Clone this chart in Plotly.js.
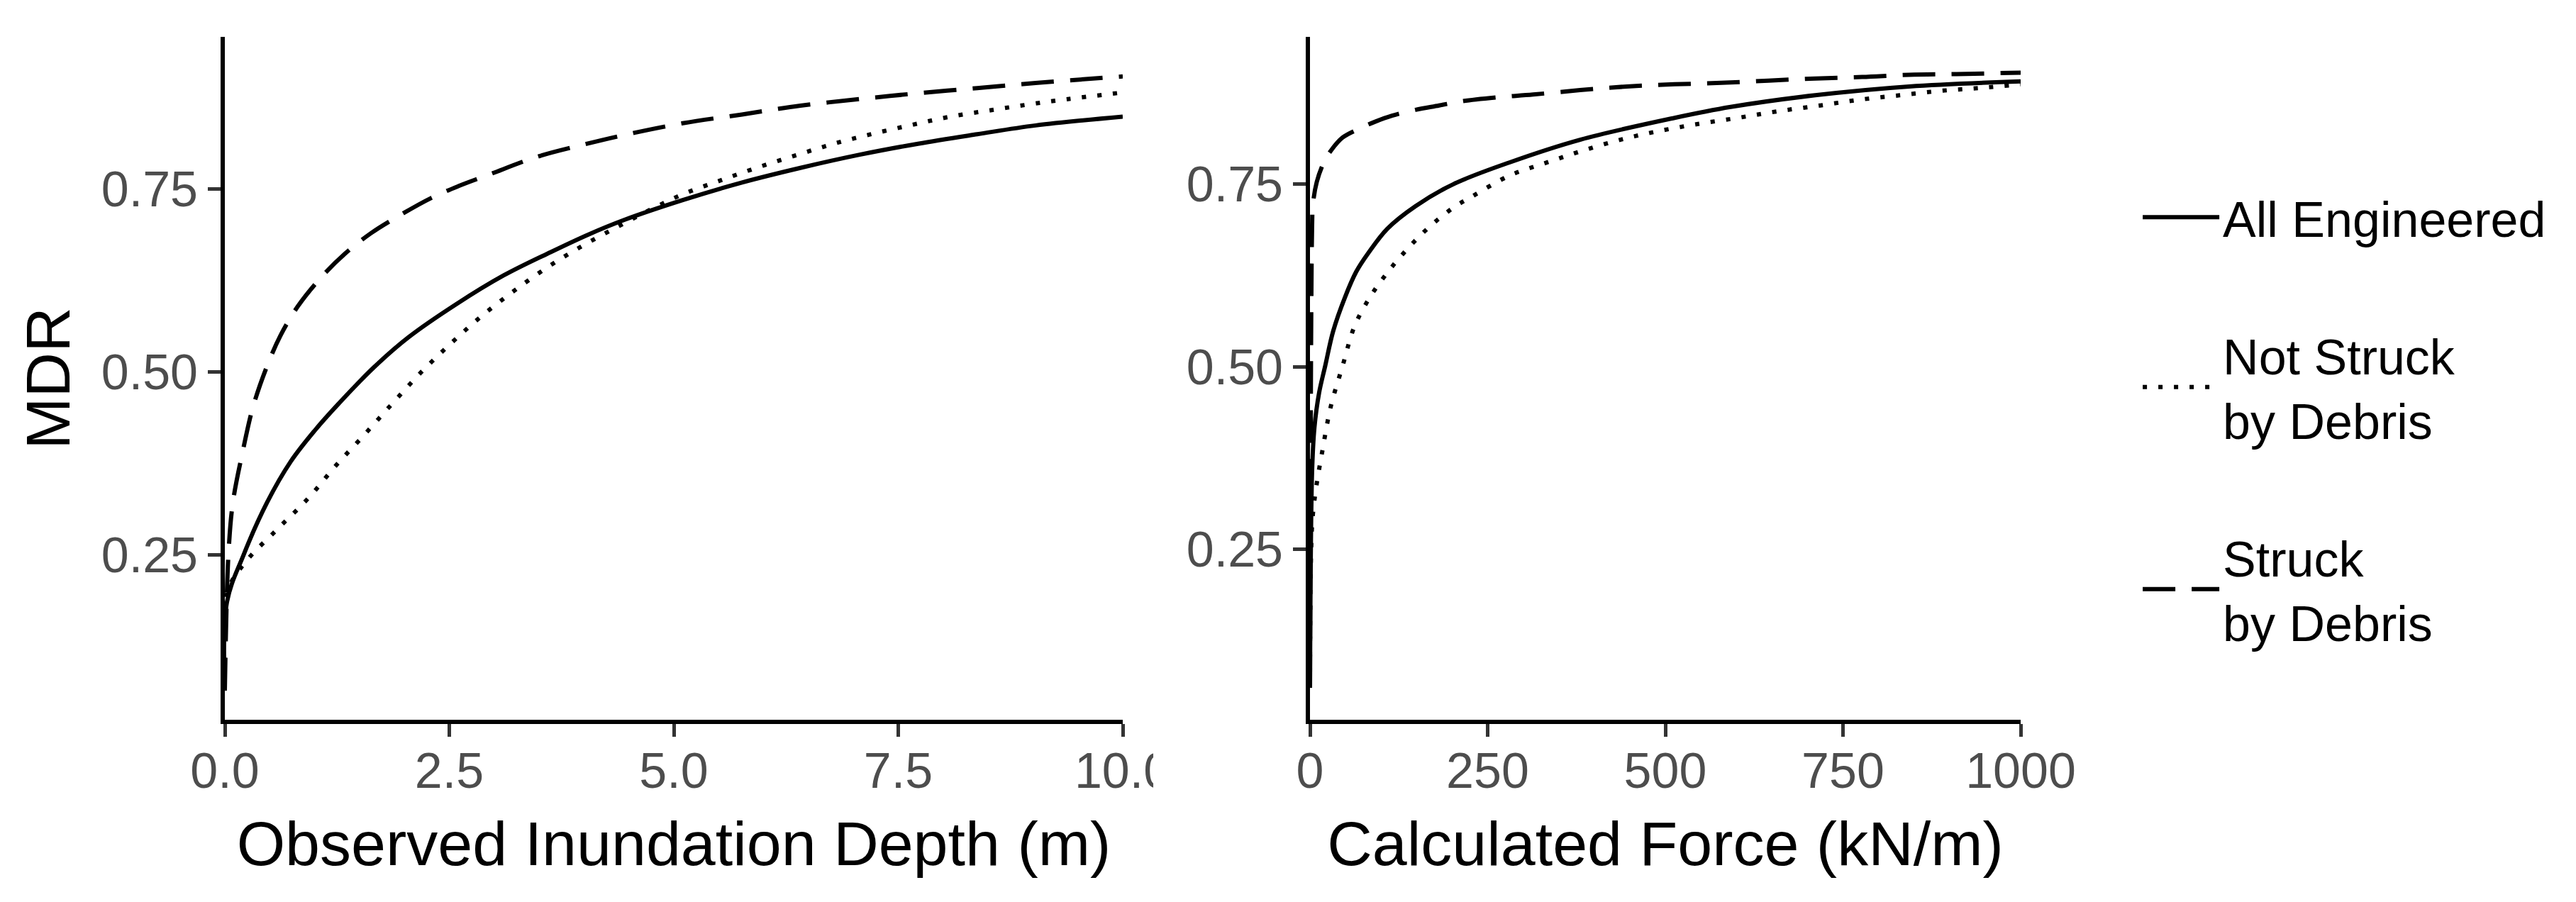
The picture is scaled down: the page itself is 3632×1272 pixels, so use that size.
<!DOCTYPE html>
<html>
<head>
<meta charset="utf-8">
<script src="https://cdn.plot.ly/plotly-3.0.1.min.js"></script>
<style>
  html, body { margin: 0; padding: 0; background: #ffffff; }
  #chart { width: 3632px; height: 1272px; }
</style>
</head>
<body>
<div id="chart"></div>
<script>
// ---------- data ----------
const seriesNames = ["All Engineered", "Not Struck<br>by Debris", "Struck<br>by Debris"];

// Left panel: Observed Inundation Depth (m)
const depthAll_x = [0, 0.024, 0.208, 0.471, 0.735, 1.0, 1.261, 1.656, 2.05, 2.58, 3.104, 3.63, 4.05, 4.45, 5.10, 5.76, 6.41, 7.07, 7.72, 8.38, 9.03, 10.0];
const depthAll_y = [0.065, 0.186, 0.250, 0.322, 0.378, 0.420, 0.456, 0.506, 0.548, 0.593, 0.632, 0.664, 0.688, 0.708, 0.735, 0.759, 0.779, 0.797, 0.812, 0.825, 0.837, 0.849];

const depthNot_x = [0, 0.03, 0.234, 0.59, 0.932, 1.235, 1.551, 1.88, 2.196, 2.525, 2.854, 3.21, 3.578, 3.947, 4.35, 4.74, 5.10, 5.50, 5.92, 6.38, 6.81, 7.23, 7.66, 8.08, 8.54, 8.97, 9.39, 10.0];
const depthNot_y = [0.065, 0.200, 0.241, 0.286, 0.328, 0.372, 0.414, 0.459, 0.501, 0.540, 0.576, 0.610, 0.642, 0.670, 0.697, 0.722, 0.743, 0.761, 0.779, 0.797, 0.813, 0.826, 0.838, 0.849, 0.858, 0.866, 0.873, 0.882];

const depthStruck_x = [0, 0.04, 0.09, 0.2, 0.313, 0.46, 0.62, 0.814, 1.077, 1.34, 1.63, 1.946, 2.3, 2.6, 2.946, 3.473, 4.0, 4.45, 5.10, 5.76, 6.41, 7.07, 7.72, 8.38, 9.03, 10.0];
const depthStruck_y = [0.065, 0.250, 0.322, 0.392, 0.452, 0.505, 0.550, 0.590, 0.630, 0.662, 0.690, 0.714, 0.738, 0.754, 0.770, 0.794, 0.811, 0.824, 0.840, 0.852, 0.864, 0.873, 0.881, 0.888, 0.895, 0.904];

// Right panel: Calculated Force (kN/m)
const forceAll_x = [0, 2.9, 6.2, 12.8, 21.4, 32.7, 49.2, 65, 82.3, 108.8, 148.5, 201.5, 281, 380, 513, 592, 711, 843, 1000];
const forceAll_y = [0.06, 0.355, 0.416, 0.464, 0.501, 0.549, 0.595, 0.630, 0.656, 0.689, 0.720, 0.750, 0.780, 0.811, 0.841, 0.856, 0.872, 0.884, 0.891];

const forceNot_x = [0, 2.9, 8.2, 17.5, 29.4, 45.9, 62.5, 82.3, 99, 118.8, 138.6, 158.5, 181.6, 204.8, 229.3, 281, 334, 383.5, 436.5, 486, 542, 602, 658, 718, 774, 830, 887, 943, 1000];
const forceNot_y = [0.06, 0.282, 0.331, 0.385, 0.446, 0.501, 0.555, 0.592, 0.616, 0.641, 0.663, 0.683, 0.703, 0.720, 0.734, 0.762, 0.780, 0.796, 0.811, 0.822, 0.832, 0.841, 0.850, 0.858, 0.866, 0.872, 0.878, 0.882, 0.887];

const forceStruck_x = [0, 2.9, 4.2, 9.5, 19.5, 29.4, 45.9, 69.1, 92.3, 115.4, 148.5, 181.6, 214.7, 261, 314, 380, 446, 513, 579, 645, 711, 777, 843, 910, 1000];
const forceStruck_y = [0.06, 0.689, 0.723, 0.753, 0.780, 0.796, 0.814, 0.826, 0.836, 0.844, 0.852, 0.858, 0.864, 0.869, 0.873, 0.879, 0.884, 0.887, 0.889, 0.892, 0.895, 0.897, 0.900, 0.901, 0.903];

// Tick labels
const yTickVals = [0.25, 0.50, 0.75];
const yTickText = ["0.25", "0.50", "0.75"];
const depthTickVals = [0, 2.5, 5, 7.5, 10];
const depthTickText = ["0.0", "2.5", "5.0", "7.5", "10.0"];
const forceTickVals = [0, 250, 500, 750, 1000];
const forceTickText = ["0", "250", "500", "750", "1000"];

// ---------- styling ----------
const FONT = "Liberation Sans, Arial, sans-serif";
const LW = 6;
const dashes = ["solid", "6px,16px", "46px,23px"];

function trace(x, y, i, xa, ya, show) {
  return {
    x: x, y: y, xaxis: xa, yaxis: ya,
    type: "scatter", mode: "lines",
    name: seriesNames[i], legendgroup: "g" + i, showlegend: show,
    line: { color: "#000000", width: LW, dash: dashes[i], shape: "spline", smoothing: 1.0 },
    hoverinfo: "skip"
  };
}

const data = [
  trace(depthAll_x, depthAll_y, 0, "x", "y", true),
  trace(depthNot_x, depthNot_y, 1, "x", "y", true),
  trace(depthStruck_x, depthStruck_y, 2, "x", "y", true),
  trace(forceAll_x, forceAll_y, 0, "x2", "y2", false),
  trace(forceNot_x, forceNot_y, 1, "x2", "y2", false),
  trace(forceStruck_x, forceStruck_y, 2, "x2", "y2", false)
];

const axisCommon = {
  showgrid: false, zeroline: false,
  showline: true, linecolor: "#000000", linewidth: 6,
  ticks: "outside", ticklen: 18, tickwidth: 5, tickcolor: "#333333",
  tickfont: { family: FONT, size: 70, color: "#4D4D4D" },
  automargin: false, fixedrange: true
};

const layout = {
  width: 3632, height: 1272,
  margin: { l: 317, r: 783, t: 52, b: 257, autoexpand: false },
  paper_bgcolor: "#ffffff", plot_bgcolor: "#ffffff",
  font: { family: FONT, size: 70, color: "#000000" },
  showlegend: true,
  legend: {
    x: 1.066, xanchor: "left", y: 0.79, yanchor: "top",
    font: { family: FONT, size: 70, color: "#000000" },
    itemwidth: 108, tracegroupgap: 100, traceorder: "grouped",
    bgcolor: "rgba(0,0,0,0)", borderwidth: 0, valign: "middle"
  },
  xaxis: Object.assign({}, axisCommon, {
    domain: [0, 0.5], range: [0, 10], anchor: "y",
    tickvals: depthTickVals, ticktext: depthTickText, ticklabelstandoff: -12,
    title: { text: "Observed Inundation Depth (m)", font: { family: FONT, size: 88, color: "#000000" }, standoff: 35 }
  }),
  yaxis: Object.assign({}, axisCommon, {
    domain: [0, 1], range: [0.025, 0.958], anchor: "x",
    tickvals: yTickVals, ticktext: yTickText,
    title: { text: "MDR", font: { family: FONT, size: 88, color: "#000000" }, standoff: 17 }
  }),
  xaxis2: Object.assign({}, axisCommon, {
    domain: [0.60427, 1], range: [0, 1000], anchor: "y2",
    tickvals: forceTickVals, ticktext: forceTickText, ticklabelstandoff: -12,
    title: { text: "Calculated Force (kN/m)", font: { family: FONT, size: 88, color: "#000000" }, standoff: 35 }
  }),
  yaxis2: Object.assign({}, axisCommon, {
    domain: [0, 1], range: [0.016, 0.952], anchor: "x2",
    tickvals: yTickVals, ticktext: yTickText
  }),
  shapes: [
    { type: "rect", xref: "paper", yref: "paper", x0: 0.517, x1: 0.548, y0: -0.026, y1: -0.115,
      fillcolor: "#ffffff", line: { width: 0 }, layer: "above" }
  ]
};

Plotly.newPlot("chart", data, layout, { staticPlot: true, displayModeBar: false });
</script>
</body>
</html>
